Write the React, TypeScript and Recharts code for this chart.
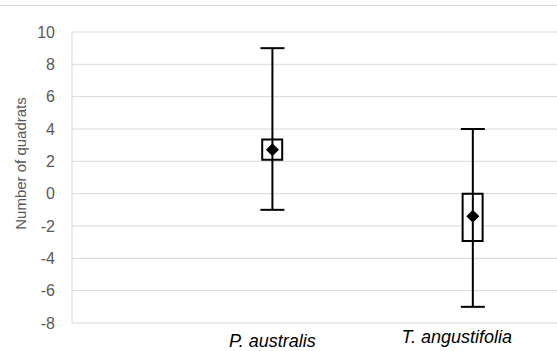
import {
  Bar,
  CartesianGrid,
  ComposedChart,
  ErrorBar,
  Scatter,
  XAxis,
  YAxis,
} from "recharts";

const categories = ["P. australis", "T. angustifolia"];
const minValues = [-1, -7];
const maxValues = [9, 4];
const q1Values = [2.1, -2.93];
const q3Values = [3.35, 0];
const meanValues = [2.72, -1.4];
const yTicks = [-8, -6, -4, -2, 0, 2, 4, 6, 8, 10];

// label nudges, per category (Excel staggered them)
const labelShift = [
  { dx: 0, dy: 16 },
  { dx: -16, dy: 12 },
];

const data = categories.map((name, i) => ({
  x: i + 1,
  name,
  mean: meanValues[i],
  box: [q1Values[i], q3Values[i]],
  err: [meanValues[i] - minValues[i], maxValues[i] - meanValues[i]],
}));

const font = "'Liberation Sans', Arial, sans-serif";
const gray = "#595959";

function CategoryTick(props: any) {
  const { x, y, payload } = props;
  const i = payload.value - 1;
  const s = labelShift[i] ?? { dx: 0, dy: 12 };
  return (
    <text
      x={x + s.dx}
      y={y}
      dy={s.dy}
      textAnchor="middle"
      fontStyle="italic"
      fontSize={18}
      fontFamily={font}
      fill="#000"
    >
      {categories[i]}
    </text>
  );
}

function Diamond(props: any) {
  const { cx, cy } = props;
  const r = 6.5;
  return (
    <polygon
      points={`${cx},${cy - r} ${cx + r},${cy} ${cx},${cy + r} ${cx - r},${cy}`}
      fill="#000"
    />
  );
}

export default function App() {
  return (
    <div
      style={{
        position: "absolute",
        left: 0,
        top: 0,
        width: 557,
        height: 351,
        background: "#fff",
        overflow: "hidden",
      }}
    >
      <div
        style={{
          position: "absolute",
          left: 0,
          top: 5,
          width: 557,
          height: 1,
          background: "#d9d9d9",
        }}
      />
      <ComposedChart
        width={557}
        height={351}
        data={data}
        margin={{ top: 32, right: 0, bottom: 0, left: 0 }}
        style={{ fontFamily: font }}
      >
        <CartesianGrid stroke="#d9d9d9" vertical={false} />
        <XAxis
          dataKey="x"
          type="number"
          domain={[0, 2.42]}
          ticks={[1, 2]}
          allowDataOverflow
          axisLine={false}
          tickLine={false}
          height={28}
          tick={<CategoryTick />}
          interval={0}
        />
        <YAxis
          domain={[-8, 10]}
          ticks={yTicks}
          interval={0}
          width={72}
          tickLine={false}
          axisLine={{ stroke: "#d9d9d9" }}
          tickMargin={11}
          tick={{ fill: gray, fontSize: 16, fontFamily: font }}
          label={{
            content: ({ viewBox }: any) => {
              const cx = viewBox.x + 20;
              const cy = viewBox.y + viewBox.height / 2 - 14;
              return (
                <text
                  x={cx}
                  y={cy}
                  transform={`rotate(-90 ${cx} ${cy})`}
                  textAnchor="middle"
                  dominantBaseline="central"
                  fontSize={15}
                  fontFamily={font}
                  fill={gray}
                >
                  Number of quadrats
                </text>
              );
            },
          }}
        />
        <Bar
          dataKey="box"
          barSize={20}
          fill="#fff"
          stroke="#000"
          strokeWidth={2}
          isAnimationActive={false}
        />
        <Scatter
          dataKey="mean"
          shape={<Diamond />}
          isAnimationActive={false}
        >
          <ErrorBar
            dataKey="err"
            direction="y"
            width={12}
            stroke="#000"
            strokeWidth={2}
            isAnimationActive={false}
          />
        </Scatter>
      </ComposedChart>
    </div>
  );
}
